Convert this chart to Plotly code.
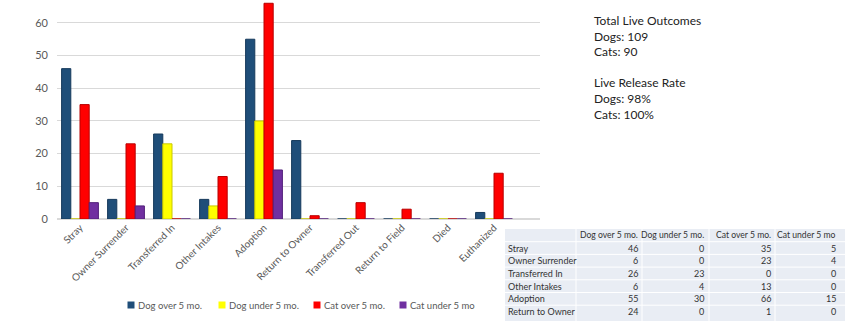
import plotly.graph_objects as go

categories = ["Stray", "Owner Surrender", "Transferred In", "Other Intakes", "Adoption",
              "Return to Owner", "Transferred Out", "Return to Field", "Died", "Euthanized"]
series_names = ["Dog over 5 mo.", "Dog under 5 mo.", "Cat over 5 mo.", "Cat under 5 mo"]
dog_over5 = [46, 6, 26, 6, 55, 24, 0, 0, 0, 2]
dog_under5 = [0, 0, 23, 4, 30, 0, 0, 0, 0, 0]
cat_over5 = [35, 23, 0, 13, 66, 1, 5, 3, 0, 14]
cat_under5 = [5, 4, 0, 0, 15, 0, 0, 0, 0, 0]
colors = ["#1F4E79", "#FFFF00", "#FF0000", "#7030A0"]
edge_colors = ["#163a5c", "#c9c900", "#b80000", "#52207a"]

table_rows = categories[:6]
summary_lines = ["Total Live Outcomes", "Dogs: 109", "Cats: 90", "",
                 "Live Release Rate", "Dogs: 98%", "Cats: 100%"]

W, H = 845, 321
font_family = "Lato, 'Open Sans', sans-serif"


def px(x):
    return x / W


def py(y):
    return 1 - y / H


fig = go.Figure()
series = [dog_over5, dog_under5, cat_over5, cat_under5]
for name, vals, c, ec in zip(series_names, series, colors, edge_colors):
    fig.add_trace(go.Bar(x=categories, y=vals, name=name, showlegend=False,
                         marker=dict(color=c, line=dict(color=ec, width=1))))

# ---- legend (square swatch + label) ----
legend_x = [131, 222, 317, 403]
legend_y = 305
for lx, name, c in zip(legend_x, series_names, colors):
    fig.add_shape(type="rect", xref="paper", yref="paper",
                  x0=px(lx - 3.5), x1=px(lx + 3.5), y0=py(legend_y + 3.5), y1=py(legend_y - 3.5),
                  fillcolor=c, line=dict(width=0))
    fig.add_annotation(x=px(lx + 5), y=py(legend_y), xref="paper", yref="paper",
                       xanchor="left", yanchor="middle", text=name, showarrow=False,
                       font=dict(family=font_family, size=9.5, color="#595959"))

# ---- data table (drawn with shapes + text) ----
tx0, tx1 = 505, 845
ty0 = 229
row_h = 12.7
col_edges = [505, 576, 642, 709, 775, 845]
col_right = [None, 640, 706, 773, 838]

n = len(table_rows)
fig.add_shape(type="rect", xref="paper", yref="paper", x0=px(tx0), x1=px(tx1),
              y0=0, y1=py(ty0), fillcolor="#e9edf4", line=dict(width=0), layer="below")
for k in range(1, n + 1):
    yy = ty0 + k * row_h
    fig.add_shape(type="line", xref="paper", yref="paper", x0=px(tx0), x1=px(tx1),
                  y0=py(yy), y1=py(yy), line=dict(color="white", width=1))
for xe in col_edges[1:-1]:
    fig.add_shape(type="line", xref="paper", yref="paper", x0=px(xe), x1=px(xe),
                  y0=0, y1=py(ty0), line=dict(color="white", width=1))

tfont = dict(family=font_family, size=9, color="#333333")
hfont = dict(family=font_family, size=8.6, color="#333333")
for j, name in enumerate(series_names):
    fig.add_annotation(x=px(col_right[j + 1]), y=py(ty0 + row_h / 2), xref="paper", yref="paper",
                       xanchor="right", yanchor="middle", text=name, showarrow=False, font=hfont)
for i, rname in enumerate(table_rows):
    yc = py(ty0 + (i + 1.5) * row_h)
    fig.add_annotation(x=px(506), y=yc, xref="paper", yref="paper", xanchor="left",
                       yanchor="middle", text=rname, showarrow=False, font=tfont)
    for j, vals in enumerate(series):
        fig.add_annotation(x=px(col_right[j + 1]), y=yc, xref="paper", yref="paper",
                           xanchor="right", yanchor="middle", text=str(vals[i]),
                           showarrow=False, font=tfont)

# ---- summary text ----
fig.add_annotation(
    x=px(592), y=py(11), xref="paper", yref="paper", xanchor="left", yanchor="top",
    text="<br>".join(summary_lines), showarrow=False, align="left",
    font=dict(family=font_family, size=12, color="#222222"),
)

fig.update_layout(
    width=W, height=H, margin=dict(l=0, r=0, t=0, b=0),
    paper_bgcolor="white", plot_bgcolor="white",
    barmode="group", bargap=0.2, bargroupgap=0.0,
    font=dict(family=font_family, color="#595959"),
    xaxis=dict(domain=[57 / W, 540 / W], range=[-0.5, 10.0], tickangle=-45,
               tickfont=dict(size=10, color="#595959"), showgrid=False, showline=False,
               automargin=False, ticks=""),
    yaxis=dict(domain=[(H - 219) / H, 1.0], range=[0, 67], tickvals=[0, 10, 20, 30, 40, 50, 60],
               gridcolor="#d9d9d9", gridwidth=1, zeroline=True, zerolinecolor="#d9d9d9",
               tickfont=dict(size=11, color="#595959"), automargin=False, ticks="",
               ticklabelstandoff=8),
    showlegend=False,
)

fig.write_html("out.html")
